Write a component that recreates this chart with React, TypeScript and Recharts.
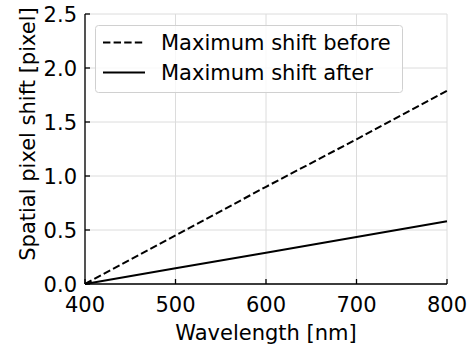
import React from "react";
import { LineChart, Line, XAxis, YAxis, CartesianGrid } from "recharts";

// wavelength samples [nm] and pixel shift
const wavelengths = [400, 500, 600, 700, 800];
const shiftBefore = [0, 0.45, 0.9, 1.34, 1.79];
const shiftAfter = [0, 0.145, 0.29, 0.435, 0.58];

const xTicks = [400, 500, 600, 700, 800];
const yTicks = [0, 0.5, 1, 1.5, 2, 2.5];

const data = wavelengths.map((w, i) => ({
  wavelength: w,
  before: shiftBefore[i],
  after: shiftAfter[i],
}));

const FONT = "DejaVu Sans, sans-serif";
const FS = 21;
const TICK_LEN = 5;

const BottomTick = (props: any) => {
  const { x, y, payload } = props;
  const axisY = y - 6;
  return (
    <g>
      <line x1={x} x2={x} y1={axisY} y2={axisY - TICK_LEN} stroke="#000" strokeWidth={1.3} />
      <text x={x} y={axisY + 28} textAnchor="middle" fontFamily={FONT} fontSize={FS} fill="#000">
        {payload.value}
      </text>
    </g>
  );
};

const TopTick = (props: any) => {
  const { x, y } = props;
  return <line x1={x} x2={x} y1={y} y2={y + TICK_LEN} stroke="#000" strokeWidth={1.3} />;
};

const LeftTick = (props: any) => {
  const { x, y, payload } = props;
  const axisX = x + 8;
  return (
    <g>
      <line x1={axisX} x2={axisX + TICK_LEN} y1={y} y2={y} stroke="#000" strokeWidth={1.3} />
      <text x={x} y={y + 7.5} textAnchor="end" fontFamily={FONT} fontSize={FS} fill="#000">
        {Number(payload.value).toFixed(1)}
      </text>
    </g>
  );
};

const RightTick = (props: any) => {
  const { x, y } = props;
  return <line x1={x} x2={x - TICK_LEN} y1={y} y2={y} stroke="#000" strokeWidth={1.3} />;
};

const LegendBox = () => (
  <svg width={308} height={68} style={{ position: "absolute", left: 95, top: 25 }}>
    <rect x={0.5} y={0.5} width={307} height={67} rx={3} fill="#fff" fillOpacity={0.8} stroke="#d0d0d0" />
    <line x1={8} x2={50} y1={17.5} y2={17.5} stroke="#000" strokeWidth={2} strokeDasharray="7.4 3.2" />
    <text x={66} y={25} fontFamily={FONT} fontSize={FS} fill="#000">
      Maximum shift before
    </text>
    <line x1={8} x2={50} y1={47.5} y2={47.5} stroke="#000" strokeWidth={2} />
    <text x={66} y={55} fontFamily={FONT} fontSize={FS} fill="#000">
      Maximum shift after
    </text>
  </svg>
);

export default function App() {
  return (
    <div style={{ position: "absolute", left: 0, top: 0, width: 471, height: 348, background: "#fff" }}>
      <LineChart
        width={471}
        height={348}
        data={data}
        margin={{ top: 14, right: 24, left: 25, bottom: 24 }}
      >
        <CartesianGrid stroke="#dcdcdc" strokeWidth={1} />
        <XAxis
          dataKey="wavelength"
          type="number"
          domain={[400, 800]}
          ticks={xTicks}
          height={40}
          tickSize={0}
          tickMargin={6}
          tick={<BottomTick />}
          axisLine={{ stroke: "#000", strokeWidth: 1.3 }}
          tickLine={false}
          label={{
            content: () => (
              <text x={266} y={340} textAnchor="middle" fontFamily={FONT} fontSize={FS} fill="#000">
                Wavelength [nm]
              </text>
            ),
          }}
        />
        <XAxis
          xAxisId="top"
          dataKey="wavelength"
          orientation="top"
          type="number"
          domain={[400, 800]}
          ticks={xTicks}
          height={0}
          tickSize={0}
          tickMargin={0}
          tick={<TopTick />}
          axisLine={{ stroke: "#000", strokeWidth: 1.3 }}
          tickLine={false}
        />
        <YAxis
          type="number"
          domain={[0, 2.5]}
          ticks={yTicks}
          width={60}
          tickSize={0}
          tickMargin={8}
          tick={<LeftTick />}
          axisLine={{ stroke: "#000", strokeWidth: 1.3 }}
          tickLine={false}
          label={{
            content: () => (
              <text
                x={35}
                y={134}
                transform="rotate(-90 35 134)"
                textAnchor="middle"
                fontFamily={FONT}
                fontSize={FS}
                fill="#000"
              >
                Spatial pixel shift [pixel]
              </text>
            ),
          }}
        />
        <YAxis
          yAxisId="right"
          orientation="right"
          type="number"
          domain={[0, 2.5]}
          ticks={yTicks}
          width={0}
          tickSize={0}
          tickMargin={0}
          tick={<RightTick />}
          axisLine={{ stroke: "#000", strokeWidth: 1.3 }}
          tickLine={false}
        />
        <Line
          dataKey="before"
          stroke="#000"
          strokeWidth={2}
          strokeDasharray="7.4 3.2"
          dot={false}
          isAnimationActive={false}
        />
        <Line
          dataKey="after"
          stroke="#000"
          strokeWidth={2}
          dot={false}
          isAnimationActive={false}
        />
      </LineChart>
      <LegendBox />
    </div>
  );
}
